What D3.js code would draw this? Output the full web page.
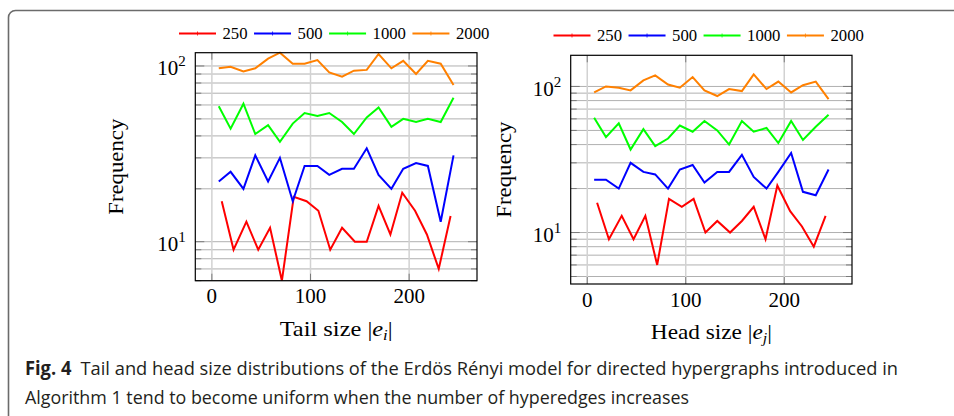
<!DOCTYPE html>
<html><head><meta charset="utf-8">
<script src="https://cdn.jsdelivr.net/npm/d3@7"></script>
<style>body{margin:0;background:#fff}svg{display:block}</style>
</head><body>
<svg id="c" width="954" height="416"></svg>
<script>
// ---------- data ----------
const seriesNames = ["250", "500", "1000", "2000"];
const seriesColors = ["#ff0000", "#0000ff", "#00ff00", "#ff8000"];
const xRed   = [10, 22, 35, 47, 59, 71, 83, 96, 108, 120, 132, 145, 157, 169, 181, 193, 206, 218, 230, 242];
const xOther = [7, 19, 32, 44, 57, 69, 82, 94, 107, 119, 132, 144, 157, 169, 182, 194, 207, 219, 232, 245];

const tail250  = [17, 9, 13, 9, 12, 6, 18, 17, 15, 9, 12, 10, 10, 16, 11, 19, 15, 11, 7, 14];
const tail500  = [22, 25, 20, 31, 22, 30, 17, 27, 27, 24, 26, 26, 34, 24, 20, 26, 28, 27, 13, 31];
const tail1000 = [59, 44, 61, 41, 46, 37, 47, 54, 52, 54, 48, 41, 51, 58, 45, 50, 48, 50, 48, 66];
const tail2000 = [97, 99, 93, 97, 110, 119, 103, 103, 108, 92, 87, 94, 95, 117, 97, 107, 90, 107, 103, 78];

const head250  = [16, 9, 13, 9, 13, 6, 17, 15, 17, 10, 12, 10, 12, 15, 9, 21, 14, 11, 8, 13];
const head500  = [23, 23, 20, 30, 26, 25, 20, 27, 29, 22, 26, 26, 34, 24, 20, 26, 35, 19, 18, 27];
const head1000 = [61, 45, 56, 37, 51, 39, 44, 54, 49, 58, 50, 40, 58, 49, 52, 41, 58, 43, 53, 64];
const head2000 = [91, 100, 98, 94, 110, 119, 103, 98, 116, 94, 86, 96, 93, 121, 96, 108, 91, 102, 108, 82];

const xTickValues = [0, 100, 200];
const yTickExponents = [1, 2];
const captionBold = "Fig. 4";
const captionLine1 = "Tail and head size distributions of the Erdös Rényi model for directed hypergraphs introduced in";
const captionLine2 = "Algorithm 1 tend to become uniform when the number of hyperedges increases";

// ---------- drawing ----------
const svg = d3.select("#c");
const SERIF = "'Liberation Serif', 'DejaVu Serif', serif";

// frame
svg.append("rect").attr("x", 8.5).attr("y", 10.5).attr("width", 980).attr("height", 440)
  .attr("rx", 7).attr("fill", "none").attr("stroke", "#6b6b6b").attr("stroke-width", 1.6);

function build(xs, ys) { return xs.map((x, i) => ({x, y: ys[i]})); }

const panels = [
  { left: 195.3, right: 477, top: 52.7, bottom: 280.7, enlargeY: false,
    series: [build(xRed, tail250), build(xOther, tail500), build(xOther, tail1000), build(xOther, tail2000)],
    title: ["Tail size ", "i"], titleLen: 113, legendX: 179, legendY: 33.5, yTitleX: 123 },
  { left: 570.7, right: 852, top: 55.3, bottom: 284, enlargeY: true,
    series: [build(xRed, head250), build(xOther, head500), build(xOther, head1000), build(xOther, head2000)],
    title: ["Head size ", "j"], titleLen: 121, legendX: 553.5, legendY: 35.5, yTitleX: 511 }
];

panels.forEach(p => {
  const g = svg.append("g");
  const all = p.series.flat();
  const xe = d3.extent(all, d => d.x);
  const xpad = (xe[1] - xe[0]) * 0.1;
  const x = d3.scaleLinear().domain([xe[0] - xpad, xe[1] + xpad]).range([p.left, p.right]);
  const ye = d3.extent(all, d => d.y);
  let yDom = ye;
  if (p.enlargeY) {
    const l0 = Math.log10(ye[0]), l1 = Math.log10(ye[1]), pad = (l1 - l0) * 0.1;
    yDom = [10 ** (l0 - pad), 10 ** (l1 + pad)];
  }
  const y = d3.scaleLog().domain(yDom).range([p.bottom, p.top]);

  // y grid (major + minor)
  const yGrid = [];
  for (let e = 0; e <= 2; e++) for (let m = 1; m <= 9; m++) {
    const v = m * 10 ** e;
    if (v >= yDom[0] && v <= yDom[1]) yGrid.push({v, major: m === 1});
  }
  g.selectAll(".yg").data(yGrid).join("line")
    .attr("x1", p.left).attr("x2", p.right)
    .attr("y1", d => y(d.v)).attr("y2", d => y(d.v))
    .attr("stroke", "#b0b0b0").attr("stroke-width", 1);
  // x grid
  g.selectAll(".xg").data(xTickValues).join("line")
    .attr("x1", d => x(d)).attr("x2", d => x(d))
    .attr("y1", p.top).attr("y2", p.bottom)
    .attr("stroke", "#d2d2d2").attr("stroke-width", 1.5);
  // ticks inside, both sides
  yGrid.forEach(d => {
    const len = d.major ? 9 : 6;
    [[p.left, p.left + len], [p.right, p.right - len]].forEach(([a, b]) => {
      g.append("line").attr("x1", a).attr("x2", b).attr("y1", y(d.v)).attr("y2", y(d.v))
        .attr("stroke", "#7a7a7a").attr("stroke-width", 1);
    });
  });
  xTickValues.forEach(v => {
    [[p.bottom, p.bottom - 7], [p.top, p.top + 7]].forEach(([a, b]) => {
      g.append("line").attr("x1", x(v)).attr("x2", x(v)).attr("y1", a).attr("y2", b)
        .attr("stroke", "#7a7a7a").attr("stroke-width", 1);
    });
  });

  // lines
  const line = d3.line().x(d => x(d.x)).y(d => y(d.y));
  p.series.forEach((s, i) => {
    g.append("path").datum(s).attr("d", line).attr("fill", "none")
      .attr("stroke", seriesColors[i]).attr("stroke-width", 2).attr("stroke-linejoin", "miter");
  });

  // axis box
  g.append("rect").attr("x", p.left).attr("y", p.top)
    .attr("width", p.right - p.left).attr("height", p.bottom - p.top)
    .attr("fill", "none").attr("stroke", "#000").attr("stroke-width", 1.2);

  // x tick labels
  g.selectAll(".xt").data(xTickValues).join("text")
    .attr("x", d => x(d)).attr("y", p.bottom + 22.5)
    .attr("text-anchor", "middle").attr("font-family", SERIF).attr("font-size", 21)
    .text(d => d);
  // y tick labels
  yTickExponents.forEach(e => {
    const t = g.append("text").attr("x", p.left - 9.5).attr("y", y(10 ** e) + 9.5)
      .attr("text-anchor", "end").attr("font-family", SERIF).attr("font-size", 21);
    t.append("tspan").text("10");
    t.append("tspan").attr("font-size", 15).attr("dy", -9).text(String(e));
  });

  // y title
  g.append("text").attr("transform", `translate(${p.yTitleX},${(p.top + p.bottom) / 2}) rotate(-90)`)
    .attr("text-anchor", "middle").attr("font-family", SERIF).attr("font-size", 21)
    .attr("textLength", 96).attr("lengthAdjust", "spacingAndGlyphs")
    .text("Frequency");
  // x title
  const xt = g.append("text").attr("x", (p.left + p.right) / 2 - p.titleLen / 2).attr("y", p.bottom + 55)
    .attr("font-family", SERIF).attr("font-size", 22)
    .attr("textLength", p.titleLen).attr("lengthAdjust", "spacingAndGlyphs");
  xt.append("tspan").text(p.title[0] + "|");
  xt.append("tspan").attr("font-style", "italic").text("e");
  xt.append("tspan").attr("font-style", "italic").attr("font-size", 15).attr("dy", 4).text(p.title[1]);
  xt.append("tspan").attr("dy", -4).text("|");

  // legend
  let lx = p.legendX;
  seriesNames.forEach((name, i) => {
    g.append("line").attr("x1", lx).attr("x2", lx + 37).attr("y1", p.legendY).attr("y2", p.legendY)
      .attr("stroke", seriesColors[i]).attr("stroke-width", 2);
    g.append("line").attr("x1", lx + 18.5).attr("x2", lx + 18.5).attr("y1", p.legendY - 2).attr("y2", p.legendY + 2)
      .attr("stroke", seriesColors[i]).attr("stroke-width", 0.8);
    const t = g.append("text").attr("x", lx + 43.5).attr("y", p.legendY + 5.8)
      .attr("font-family", SERIF).attr("font-size", 16.7).text(name);
    lx += 37 + 6.5 + t.node().getComputedTextLength() + 6.5;
  });
});

// caption
const SANS = "'Open Sans', 'Noto Sans', sans-serif";
const c1 = svg.append("text").attr("x", 25).attr("y", 375)
  .attr("font-family", SANS).attr("font-size", 19).attr("fill", "#231f20")
  .attr("textLength", 873).attr("lengthAdjust", "spacingAndGlyphs");
c1.append("tspan").attr("font-weight", "bold").text(captionBold);
c1.append("tspan").text("\u2002" + captionLine1);
svg.append("text").attr("x", 25).attr("y", 404)
  .attr("font-family", SANS).attr("font-size", 19).attr("fill", "#231f20")
  .attr("textLength", 664).attr("lengthAdjust", "spacingAndGlyphs")
  .text(captionLine2);
</script>
</body></html>
